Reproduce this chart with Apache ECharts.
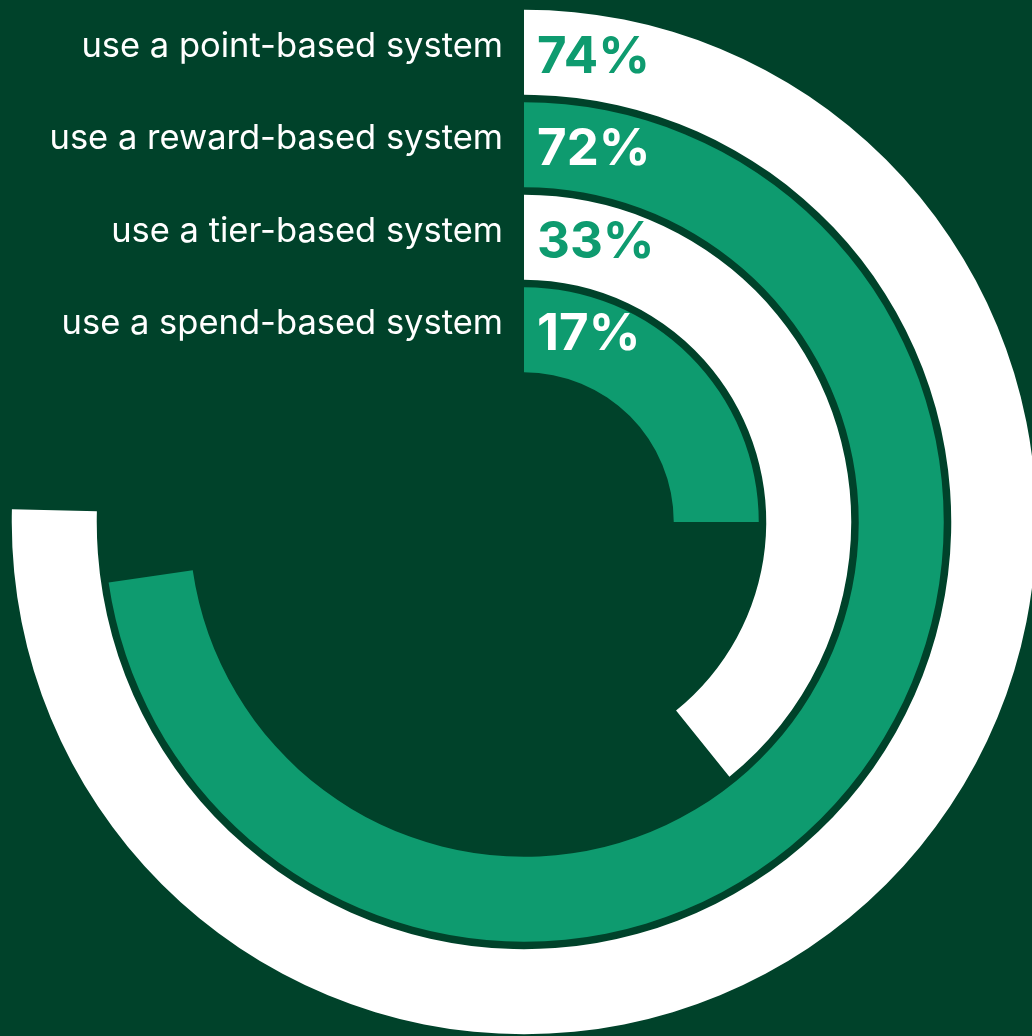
<!DOCTYPE html>
<html><head><meta charset="utf-8">
<script src="https://cdn.jsdelivr.net/npm/echarts@6/dist/echarts.min.js"></script>
<style>html,body{margin:0;padding:0;background:#00422A;overflow:hidden}#c{width:1032px;height:1036px}</style>
</head><body><div id="c"></div>
<script>
// Rings listed from innermost to outermost
const categories = ['use a spend-based system', 'use a tier-based system', 'use a reward-based system', 'use a point-based system'];
const shareLabels = [17, 33, 72, 74];          // printed percentages
const arcExtent = [25.0, 39.2, 72.7, 75.4];     // drawn arc length, % of a full turn

const BG = '#00422A', TEAL = '#0E9B6F', WHITE = '#FFFFFF';
const ringColors = [TEAL, WHITE, TEAL, WHITE];
const labelColors = [WHITE, TEAL, WHITE, TEAL];

const chart = echarts.init(document.getElementById('c'), null, {renderer: 'canvas'});
chart.setOption({
  backgroundColor: BG,
  animation: false,
  polar: {center: [524, 522], radius: [146, 516]},
  angleAxis: {
    type: 'value', min: 0, max: 100, startAngle: 90, clockwise: true,
    axisLine: {show: false}, axisTick: {show: false}, axisLabel: {show: false}, splitLine: {show: false}
  },
  radiusAxis: {
    type: 'category', data: categories, z: 10,
    axisLine: {show: false}, axisTick: {show: false}, splitLine: {show: false},
    axisLabel: {
      interval: 0, hideOverlap: false,
      color: WHITE, fontFamily: 'Inter', fontSize: 34.5, margin: 21,
      verticalAlign: 'bottom', lineHeight: 12
    }
  },
  series: [
    {
      type: 'bar', coordinateSystem: 'polar', barWidth: 85,
      data: arcExtent.map((v, i) => ({value: v, itemStyle: {color: ringColors[i]}}))
    },
    {
      type: 'scatter', coordinateSystem: 'polar', symbolSize: 0, z: 5,
      itemStyle: {opacity: 1},
      emphasis: {disabled: true},
      data: categories.map((c, i) => ({
        value: [i, 0],
        label: {
          show: true, position: 'right', distance: 13, offset: [0, 5],
          formatter: shareLabels[i] + '%',
          color: labelColors[i], fontFamily: 'Inter', fontWeight: 'bold', fontSize: 51
        }
      }))
    }
  ]
});
</script></body></html>
